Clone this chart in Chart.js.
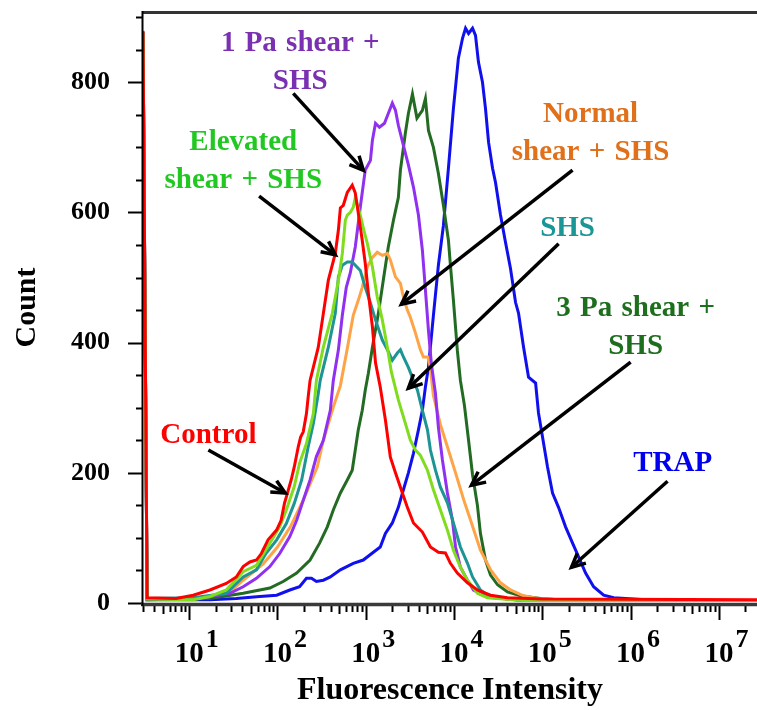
<!DOCTYPE html>
<html>
<head>
<meta charset="utf-8">
<script src="https://cdn.jsdelivr.net/npm/chart.js@4.4.1/dist/chart.umd.min.js"></script>
<style>
  html, body { margin: 0; padding: 0; background: #fff; }
</style>
</head>
<body>
<canvas id="chart" width="757" height="710"></canvas>
<script>
// histogram points: [fluorescence intensity, count]
const control = [[3.0, 878], [3.34, 8], [7.1, 7], [11.1, 12], [17.2, 20], [26.3, 30], [34.2, 40], [40.9, 56], [48.7, 63], [57.8, 66], [65.7, 76], [78.3, 97], [97.7, 112], [110, 127], [120, 153], [128, 166], [143, 189], [155, 209], [172, 240], [183, 255], [196, 263], [213, 291], [223, 317], [234, 342], [290, 393], [331, 445], [377, 496], [452, 537], [490, 573], [516, 607], [557, 611], [618, 631], [703, 642], [761, 630], [823, 599], [913, 557], [987, 522], [1070, 476], [1190, 424], [1290, 369], [1460, 332], [1670, 281], [1900, 224], [2170, 200], [2600, 169], [2960, 147], [3470, 123], [4380, 109], [5400, 86], [6650, 78], [7980, 77], [9100, 61], [10900, 46], [14200, 31], [18400, 20], [25900, 12], [40300, 8], [100000, 6], [27000000, 5]];
const elevated = [[3.0, 876], [3.34, 6], [11.1, 5], [17.2, 10], [26.3, 20], [40.9, 48], [57.8, 58], [82, 92], [106, 117], [126, 143], [155, 179], [178, 215], [213, 245], [255, 291], [276, 342], [331, 393], [418, 445], [490, 496], [543, 537], [587, 588], [618, 596], [668, 600], [722, 608], [761, 623], [867, 596], [962, 570], [1040, 553], [1190, 516], [1350, 470], [1540, 435], [1760, 392], [1950, 355], [2340, 312], [2810, 276], [3200, 250], [3650, 235], [4160, 227], [5000, 204], [5840, 174], [7010, 143], [8410, 112], [9840, 81], [11800, 55], [14200, 35], [18400, 15], [23900, 8], [60000, 4], [27000000, 4]];
const shs = [[3.0, 877], [3.34, 7], [11.1, 8], [26.3, 15], [40.9, 40], [57.8, 51], [74, 76], [98, 97], [126, 122], [155, 153], [188, 189], [223, 240], [255, 276], [290, 322], [305, 342], [377, 393], [452, 445], [490, 501], [543, 519], [618, 524], [703, 524], [761, 519], [867, 511], [987, 485], [1130, 461], [1290, 435], [1540, 404], [1760, 389], [2000, 373], [2280, 384], [2470, 389], [2670, 378], [3040, 362], [3470, 342], [3850, 327], [4380, 296], [5000, 266], [5400, 235], [6160, 204], [7010, 178], [8410, 154], [9840, 123], [11800, 86], [14200, 61], [16200, 40], [19900, 20], [25900, 9], [60000, 4], [27000000, 4]];
const onePa = [[3.0, 879], [3.34, 6], [11.1, 6], [17.2, 10], [29, 15], [40.9, 25], [57.8, 38], [82, 56], [106, 76], [138, 102], [165, 127], [196, 158], [234, 189], [276, 225], [331, 250], [397, 296], [429, 342], [490, 389], [543, 442], [602, 485], [668, 507], [761, 547], [867, 608], [987, 665], [1130, 680], [1190, 711], [1290, 737], [1430, 731], [1630, 737], [1800, 752], [2000, 768], [2170, 757], [2340, 734], [2670, 703], [3040, 673], [3470, 639], [3950, 596], [4380, 542], [4740, 481], [5130, 419], [5550, 366], [6160, 322], [6650, 270], [7380, 220], [8410, 169], [9590, 127], [10400, 86], [11800, 55], [14200, 35], [16600, 20], [23900, 9], [60000, 4], [27000000, 4]];
const normal = [[3.0, 877], [3.34, 7], [11.1, 7], [17.2, 10], [29, 17], [40.9, 35], [68.9, 60], [100, 86], [140, 117], [196, 158], [282, 209], [331, 250], [429, 301], [516, 334], [618, 391], [722, 442], [823, 465], [913, 485], [1040, 516], [1190, 531], [1350, 539], [1540, 534], [1760, 537], [1900, 527], [2170, 501], [2470, 491], [2670, 470], [2960, 450], [3200, 439], [3650, 415], [4160, 389], [4500, 378], [5130, 378], [5400, 360], [5840, 319], [7010, 274], [8410, 240], [10400, 200], [12900, 158], [15400, 127], [19900, 81], [25900, 51], [33600, 31], [43600, 20], [61300, 11], [88400, 7], [200000, 4], [27000000, 4]];
const threePa = [[3.0, 876], [3.34, 5], [17.2, 7], [40.9, 15], [82, 23], [116, 33], [165, 46], [234, 66], [300, 92], [367, 117], [429, 143], [516, 169], [618, 189], [703, 204], [761, 235], [823, 266], [913, 296], [987, 327], [1070, 353], [1190, 393], [1390, 445], [1580, 496], [1800, 547], [2060, 588], [2340, 623], [2470, 665], [2810, 722], [3040, 752], [3380, 782], [3800, 745], [4380, 757], [4740, 775], [5130, 726], [5840, 700], [6650, 660], [7580, 611], [8640, 557], [9100, 519], [9840, 465], [10900, 388], [11800, 342], [13100, 304], [14600, 250], [16200, 197], [18400, 150], [19900, 107], [22700, 66], [25900, 43], [31100, 28], [40300, 17], [56700, 11], [95000, 7], [200000, 4], [27000000, 4]];
const trap = [[3.0, 875], [3.34, 5], [17.2, 5], [34.2, 7], [63, 10], [98, 12], [138, 20], [178, 25], [213, 38], [243, 38], [276, 33], [331, 35], [397, 40], [516, 51], [722, 61], [937, 66], [1220, 78], [1460, 86], [1670, 107], [2000, 123], [2340, 147], [2670, 174], [3040, 200], [3470, 230], [3950, 266], [4380, 296], [4740, 332], [5130, 362], [5840, 442], [6650, 519], [7580, 580], [8640, 668], [9840, 760], [11200, 837], [12500, 868], [13500, 883], [14600, 875], [16200, 883], [17500, 872], [18900, 831], [21000, 800], [22700, 760], [24600, 708], [27300, 668], [29500, 646], [33600, 596], [38300, 554], [43600, 514], [49700, 462], [53800, 445], [61300, 393], [69800, 347], [83900, 338], [90500, 292], [100500, 255], [114500, 209], [130500, 169], [152600, 147], [183300, 117], [220000, 92], [257500, 71], [309000, 46], [381000, 25], [495000, 12], [643000, 8], [2000000, 4], [27000000, 4]];

const seriesNames = ["Control", "Elevated shear + SHS", "SHS", "1 Pa shear + SHS", "Normal shear + SHS", "3 Pa shear + SHS", "TRAP"];
const seriesData = [control, elevated, shs, onePa, normal, threePa, trap];
const seriesColors = ["#ff0000", "#80dc1e", "#1f9494", "#9030f0", "#ffa347", "#236b23", "#1010ee"];

const xMin = 3, xMax = 27000000;
const xDecades = [1, 2, 3, 4, 5, 6, 7];
const yMax = 908;
const yTickStep = 200;

// callouts, anchored in data coordinates
const notes = [
  { lines: ["1 Pa shear +", "SHS"], color: "#7a30b0", at: [181, 860], from: [151, 783], to: [939, 665] },
  { lines: ["Elevated", "shear + SHS"], color: "#22c822", at: [41, 707], from: [62, 625], to: [452, 535] },
  { lines: ["Normal", "shear + SHS"], color: "#e0701a", at: [352000, 750], from: [220000, 665], to: [2535, 459] },
  { lines: ["SHS"], color: "#1a9696", at: [193000, 575], from: [153000, 552], to: [3040, 330] },
  { lines: ["3 Pa shear +", "SHS"], color: "#1d6e1d", at: [1140000, 452], from: [1000000, 370], to: [15740, 181] },
  { lines: ["Control"], color: "#ff0000", at: [16.5, 258], from: [16.5, 235], to: [122.5, 169] },
  { lines: ["TRAP"], color: "#0000ee", at: [2990000, 215], from: [2620000, 187], to: [214000, 55] }
];

const serif = '"Liberation Serif", "Times New Roman", serif';

function drawArrow(ctx, x1, y1, x2, y2) {
  ctx.beginPath();
  ctx.moveTo(x1, y1);
  ctx.lineTo(x2, y2);
  ctx.stroke();
  const ang = Math.atan2(y2 - y1, x2 - x1);
  const len = 15, spread = 0.45;
  ctx.beginPath();
  ctx.moveTo(x2 - len * Math.cos(ang - spread), y2 - len * Math.sin(ang - spread));
  ctx.lineTo(x2, y2);
  ctx.lineTo(x2 - len * Math.cos(ang + spread), y2 - len * Math.sin(ang + spread));
  ctx.stroke();
}

const axesPlugin = {
  id: 'axesPlugin',
  afterDatasetsDraw(chart) {
    const { ctx, chartArea: a, scales: { x, y } } = chart;
    ctx.save();
    ctx.strokeStyle = '#000';
    ctx.lineCap = 'butt';

    // y ticks: long every 200, short every 50
    ctx.lineWidth = 2;
    for (let v = 0; v <= yMax; v += 50) {
      const py = Math.round(y.getPixelForValue(v)) + 0.5;
      const len = v % 200 === 0 ? 15 : 7;
      ctx.beginPath();
      ctx.moveTo(a.left - len, py);
      ctx.lineTo(a.left, py);
      ctx.stroke();
    }

    // x ticks: decades long, 2..9 short
    for (let d = 0; d <= 7; d++) {
      for (let m = 1; m <= 9; m++) {
        const v = m * Math.pow(10, d);
        if (v < xMin || v > xMax) continue;
        const px = Math.round(x.getPixelForValue(v)) + 0.5;
        const len = m === 1 ? 15 : (m === 5 ? 9 : 7);
        ctx.beginPath();
        ctx.moveTo(px, a.bottom + 2);
        ctx.lineTo(px, a.bottom + 2 + len);
        ctx.stroke();
      }
    }

    // x tick labels 10^n
    ctx.fillStyle = '#000';
    ctx.textBaseline = 'alphabetic';
    xDecades.forEach(d => {
      const px = x.getPixelForValue(Math.pow(10, d));
      ctx.font = 'bold 29px ' + serif;
      ctx.textAlign = 'center';
      ctx.fillText('10', px, 662);
      const w = ctx.measureText('10').width;
      ctx.font = 'bold 26px ' + serif;
      ctx.textAlign = 'left';
      ctx.fillText(String(d), px + w / 2 + 2, 647);
    });

    // frame
    ctx.strokeStyle = '#333';
    ctx.lineWidth = 3;
    ctx.beginPath();
    ctx.moveTo(a.left, a.top + 0.5);
    ctx.lineTo(a.right, a.top + 0.5);
    ctx.stroke();
    ctx.strokeStyle = '#3a3a3a';
    ctx.lineWidth = 3.5;
    ctx.beginPath();
    ctx.moveTo(a.left - 2, a.bottom + 1.5);
    ctx.lineTo(a.right, a.bottom + 1.5);
    ctx.stroke();
    ctx.strokeStyle = '#000';
    ctx.lineWidth = 2;
    ctx.beginPath();
    ctx.moveTo(a.left - 0.5, a.top - 1);
    ctx.lineTo(a.left - 0.5, a.bottom + 3);
    ctx.stroke();
    ctx.restore();
  },
  afterDraw(chart) {
    const { ctx, scales: { x, y } } = chart;
    ctx.save();
    ctx.strokeStyle = '#000';
    ctx.lineWidth = 3.5;
    ctx.lineJoin = 'miter';
    ctx.lineCap = 'butt';
    ctx.font = 'bold 29px ' + serif;
    if ('wordSpacing' in ctx) ctx.wordSpacing = '2px';
    ctx.textAlign = 'center';
    ctx.textBaseline = 'middle';
    notes.forEach(n => {
      drawArrow(ctx, x.getPixelForValue(n.from[0]), y.getPixelForValue(n.from[1]),
                x.getPixelForValue(n.to[0]), y.getPixelForValue(n.to[1]));
      ctx.fillStyle = n.color;
      const tx = x.getPixelForValue(n.at[0]);
      const ty = y.getPixelForValue(n.at[1]);
      n.lines.forEach((line, i) => ctx.fillText(line, tx, ty + i * 38));
    });
    ctx.restore();
  }
};

new Chart(document.getElementById('chart'), {
  type: 'line',
  data: {
    datasets: seriesData.map((pts, i) => ({
      label: seriesNames[i],
      data: pts.map(p => ({ x: p[0], y: p[1] })),
      borderColor: seriesColors[i],
      borderWidth: 3,
      pointRadius: 0,
      tension: 0,
      fill: false
    }))
  },
  options: {
    responsive: false,
    animation: false,
    devicePixelRatio: 1,
    layout: { autoPadding: false, padding: { top: 12, right: 0, bottom: 0, left: 0 } },
    plugins: { legend: { display: false }, tooltip: { enabled: false } },
    scales: {
      x: {
        type: 'logarithmic',
        min: xMin,
        max: xMax,
        grid: { display: false, drawTicks: false },
        border: { display: false },
        ticks: { display: false },
        title: {
          display: true,
          text: 'Fluorescence Intensity',
          color: '#000',
          font: { family: serif, size: 32, weight: 'bold' },
          padding: { top: 0, bottom: 0 }
        },
        afterFit(scale) { scale.height = 107; }
      },
      y: {
        min: 0,
        max: yMax,
        grid: { display: false, drawTicks: true, tickLength: 30 },
        border: { display: false },
        ticks: {
          stepSize: yTickStep,
          includeBounds: false,
          padding: 3,
          color: '#000',
          font: { family: serif, size: 26, weight: 'bold', lineHeight: 0.6 }
        },
        title: {
          display: true,
          text: 'Count',
          color: '#000',
          font: { family: serif, size: 30, weight: 'bold' },
          padding: { top: 9, bottom: 0 }
        },
        afterFit(scale) { scale.width = 143; }
      }
    }
  },
  plugins: [axesPlugin]
});
</script>
</body>
</html>
